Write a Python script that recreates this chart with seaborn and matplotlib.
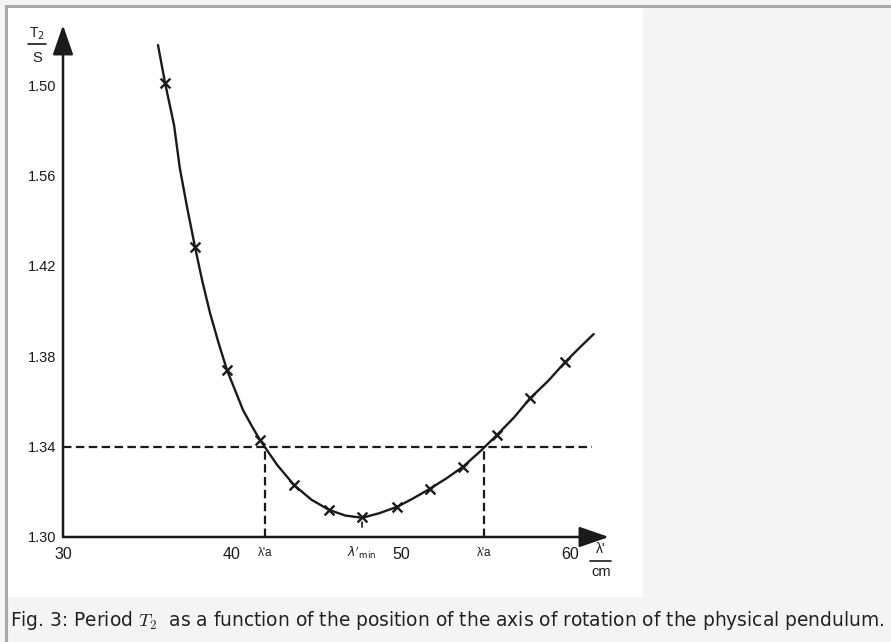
import matplotlib
matplotlib.use("Agg")
import matplotlib.pyplot as plt
import seaborn as sns
import pandas as pd
from matplotlib.lines import Line2D
from matplotlib.patches import Rectangle

# measured points (lambda' in cm, T2 in s)
lam_pts = [36.04, 37.81, 39.7, 41.66, 43.67, 45.74, 47.7, 49.76, 51.7, 53.67, 55.7, 57.63, 59.7]
t2_pts = [1.501, 1.4283, 1.3739, 1.3429, 1.323, 1.312, 1.3089, 1.3133, 1.3213, 1.3311, 1.3453, 1.3613, 1.3773]

# hand drawn curve through the points
lam_curve = [35.62, 36.04, 36.57, 36.91, 37.35, 37.67, 37.81, 38.25, 38.7, 39.2, 39.7, 40.18, 40.65,
             41.18, 41.66, 42.66, 43.67, 44.7, 45.74, 46.7, 47.7, 48.7, 49.76, 50.7, 51.7, 52.7,
             53.67, 54.7, 55.7, 56.7, 57.63, 58.7, 59.7, 60.6, 61.4]
t2_curve = [1.5177, 1.5009, 1.4823, 1.4633, 1.4456, 1.4336, 1.4283, 1.4130, 1.3991, 1.3860, 1.3739,
            1.3650, 1.3562, 1.3490, 1.3429, 1.332, 1.323, 1.3165, 1.312, 1.3095, 1.3085, 1.3105,
            1.3133, 1.317, 1.3213, 1.326, 1.3311, 1.338, 1.3453, 1.353, 1.3613, 1.369, 1.3773,
            1.384, 1.3898]

yticks = [1.30, 1.34, 1.38, 1.42, 1.46, 1.50]
ytick_labels = ["1.30", "1.34", "1.38", "1.42", "1.56", "1.50"]
xticks = [30, 40, 50, 60]
xtick_labels = ["30", "40", "50", "60"]

t2_level = 1.34
lam_a1 = 41.95
lam_a2 = 54.9
lam_min = 47.7

sns.set_style("white")
plt.rcParams["font.family"] = ["Liberation Sans", "DejaVu Sans"]

W, H = 891, 642
fig = plt.figure(figsize=(W / 100, H / 100), dpi=100, facecolor="#f4f4f4")

# white image panel + gray frame
fig.patches.append(Rectangle((8 / W, 1 - 597 / H), (643 - 8) / W, (597 - 8) / H,
                             transform=fig.transFigure, facecolor="white", edgecolor="none", zorder=-5))
fig.add_artist(Line2D([6 / W, 1], [1 - 6 / H, 1 - 6 / H], transform=fig.transFigure, color="#a8a8a8", lw=2.2))
fig.add_artist(Line2D([6 / W, 6 / W], [0, 1 - 6 / H], transform=fig.transFigure, color="#a8a8a8", lw=2.2))

left, right, bottom, top = 63, 612, 537, 22
ax = fig.add_axes([left / W, 1 - bottom / H, (right - left) / W, (bottom - top) / H])
ax.set_zorder(2)
ax.patch.set_visible(False)
ax.set_xlim(30, 30 + (right - left) / 16.9)
ax.set_ylim(1.30, 1.30 + (bottom - top) / 2260)
for s in ax.spines.values():
    s.set_visible(False)

ink = "#1a1a1a"
curve = pd.DataFrame({"lam": lam_curve, "t2": t2_curve})
pts = pd.DataFrame({"lam": lam_pts, "t2": t2_pts})
sns.lineplot(data=curve, x="lam", y="t2", ax=ax, color=ink, lw=1.7, sort=False, estimator=None)
sns.scatterplot(data=pts, x="lam", y="t2", ax=ax, marker="x", color=ink, s=50, linewidth=1.7, zorder=5)

# dashed guide lines
dash = (0, (3.8, 2.0))
ax.plot([30, 61.3], [t2_level, t2_level], ls=dash, color=ink, lw=1.6)
ax.plot([lam_a1, lam_a1], [1.30, t2_level], ls=dash, color=ink, lw=1.6)
ax.plot([lam_a2, lam_a2], [1.30, t2_level], ls=dash, color=ink, lw=1.6)
ax.plot([lam_min, lam_min], [1.3045, 1.3065], color=ink, lw=1.2)

# axes with arrows
ax.annotate("", xy=(62.3, 1.30), xytext=(30, 1.30), annotation_clip=False,
            arrowprops=dict(arrowstyle="-|>,head_length=1.3,head_width=0.45", color=ink, lw=1.8,
                            mutation_scale=14, shrinkA=0, shrinkB=0))
ax.annotate("", xy=(30, 1.5265), xytext=(30, 1.30), annotation_clip=False,
            arrowprops=dict(arrowstyle="-|>,head_length=1.3,head_width=0.45", color=ink, lw=1.8,
                            mutation_scale=14, shrinkA=0, shrinkB=0))

ax.set_yticks(yticks)
ax.set_yticklabels(ytick_labels)
ax.set_xticks(xticks)
ax.set_xticklabels(xtick_labels)
ax.tick_params(axis="y", direction="out", length=4, width=1.3, color=ink, labelsize=10.5, labelcolor=ink, pad=1)
ax.tick_params(axis="x", direction="inout", length=7, width=1.3, color=ink, labelsize=11.5, labelcolor=ink, pad=4)
ax.set_xlabel("")
ax.set_ylabel("")

# lambda labels under the axis
ax.text(lam_a1, 1.293, "λ'a", ha="center", va="center", fontsize=8.5, color=ink)
ax.text(lam_min, 1.293, r"$\lambda'_{\rm min}$", ha="center", va="center", fontsize=9, color=ink)
ax.text(lam_a2, 1.293, "λ'a", ha="center", va="center", fontsize=8.5, color=ink)

# unit labels
fig.text(37 / W, 1 - 34 / H, r"T$_2$", ha="center", va="center", fontsize=10, color=ink)
fig.add_artist(Line2D([28 / W, 46 / W], [1 - 44 / H, 1 - 44 / H], transform=fig.transFigure, color=ink, lw=1.2))
fig.text(37 / W, 1 - 58 / H, "S", ha="center", va="center", fontsize=10.5, color=ink)

fig.text(601 / W, 1 - 549 / H, "λ'", ha="center", va="center", fontsize=10, color=ink)
fig.add_artist(Line2D([590 / W, 611 / W], [1 - 561 / H, 1 - 561 / H], transform=fig.transFigure, color=ink, lw=1.2))
fig.text(601 / W, 1 - 572 / H, "cm", ha="center", va="center", fontsize=10.5, color=ink)

# caption
fig.text(10 / W, 1 - 620 / H,
         r"Fig. 3: Period $T_2$  as a function of the position of the axis of rotation of the physical pendulum.",
         ha="left", va="center", fontsize=13.4, color="#202122", family="DejaVu Sans", math_fontfamily="cm")

fig.savefig("out.png", dpi=100, facecolor=fig.get_facecolor())
